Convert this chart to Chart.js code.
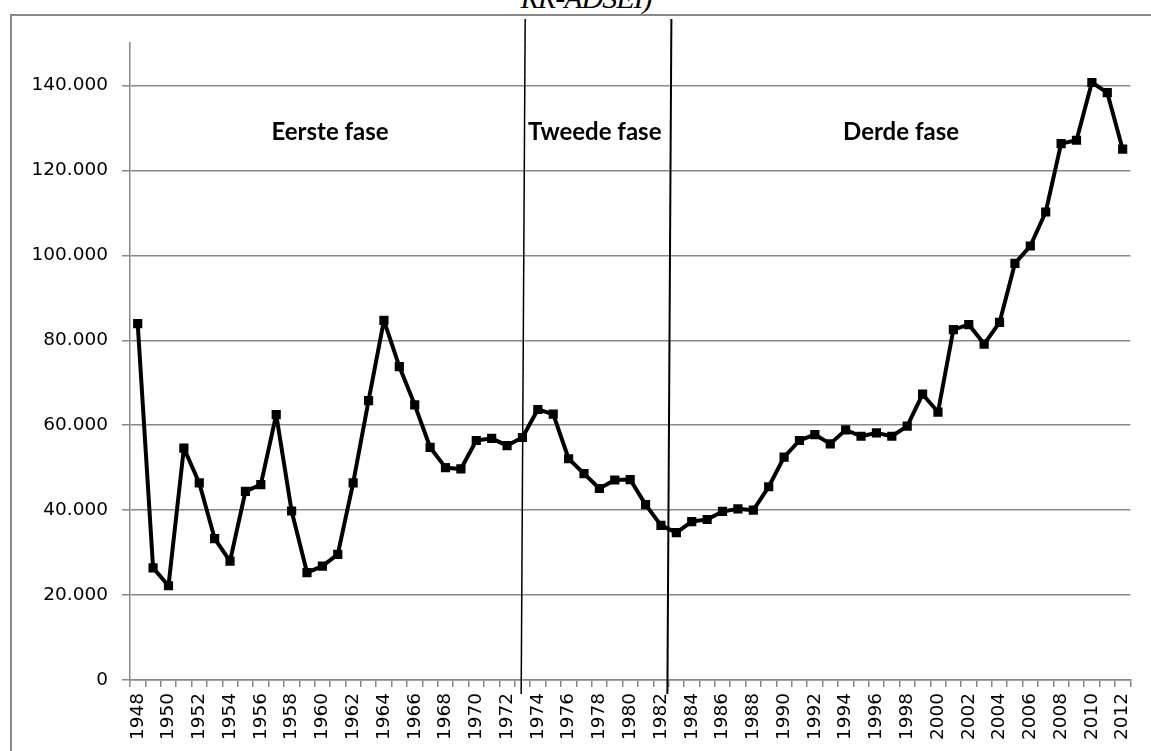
<!DOCTYPE html>
<html lang="nl">
<head>
    <meta charset="UTF-8">
    <title>Fasen</title>
    <script src="https://cdn.jsdelivr.net/npm/chart.js"></script>
    <style>
        body { margin: 0; background: #fff; overflow: hidden; }
        #wrap { position: relative; width: 1151px; height: 751px; overflow: hidden; }
        #frame {
            position: absolute; left: 10px; top: 14px;
            width: 2000px; height: 2000px;
            border: 2px solid #888; border-right: none; border-bottom: none;
        }
        #title {
            position: absolute; left: 0; width: 1172px; top: -19px;
            text-align: center;
            font: italic 30px "Liberation Serif", serif;
            letter-spacing: -1px;
        }
        #chart { position: absolute; left: 0; top: 0; }
    </style>
</head>
<body>
<div id="wrap">
    <div id="frame"></div>
    <div id="title">RR-ADSEI)</div>
    <canvas id="chart" width="1151" height="751"></canvas>
</div>
<script>
    // years on the x axis
    var years = [];
    for (var y = 1948; y <= 2012; y++) years.push(String(y));

    // series values
    var values = [
        83900, 26400, 22200, 54600, 46400, 33300, 28000, 44400, 46000, 62500,
        39800, 25300, 26800, 29600, 46400, 65800, 84700, 73800, 64800, 54800,
        50000, 49700, 56400, 56900, 55200, 57100, 63700, 62600, 52100, 48600,
        45100, 47100, 47200, 41300, 36400, 34700, 37300, 37800, 39700, 40300,
        40000, 45500, 52500, 56400, 57800, 55600, 58900, 57400, 58200, 57400,
        59800, 67300, 63100, 82500, 83700, 79100, 84200, 98100, 102200, 110200,
        126300, 127100, 140700, 138300, 125000
    ];

    // y axis tick values
    var yTicks = [0, 20000, 40000, 60000, 80000, 100000, 120000, 140000];

    // phase separators and labels (in years / values)
    var phaseLines = [1972.95, 1982.45];
    var phaseNames = ['Eerste fase', 'Tweede fase', 'Derde fase'];
    var phaseLabelYears = [1960.5, 1977.7, 1997.6];
    var phaseLabelValue = 129000;

    var phasePlugin = {
        id: 'phases',
        afterDraw: function (chart) {
            var ctx = chart.ctx;
            var xs = chart.scales.x, ys = chart.scales.y;
            ctx.save();
            ctx.strokeStyle = '#000';
            phaseLines.forEach(function (yr, i) {
                var xb = xs.getPixelForValue(yr - 1948);
                ctx.lineWidth = i === 0 ? 1.5 : 2;
                ctx.beginPath();
                ctx.moveTo(xb + 3.5, ys.top - 24);
                ctx.lineTo(xb - 0.5, ys.bottom + 14);
                ctx.stroke();
            });
            ctx.fillStyle = '#000';
            ctx.font = 'bold 24px Lato';
            ctx.textAlign = 'center';
            ctx.textBaseline = 'middle';
            phaseNames.forEach(function (name, i) {
                ctx.fillText(name, xs.getPixelForValue(phaseLabelYears[i] - 1948), ys.getPixelForValue(phaseLabelValue));
            });
            ctx.restore();
        }
    };

    var tickFont = { family: 'DejaVu Sans', size: 18.5 };

    var chart = new Chart(document.getElementById('chart'), {
        type: 'line',
        data: {
            labels: years,
            datasets: [{
                data: values,
                borderColor: '#000',
                borderWidth: 4,
                borderJoinStyle: 'round',
                pointStyle: 'rect',
                pointRadius: 6.5,
                pointBackgroundColor: '#000',
                pointBorderWidth: 0,
                tension: 0
            }]
        },
        options: {
            responsive: false,
            animation: false,
            layout: { padding: { top: 43, right: 18, left: 0, bottom: 0 } },
            plugins: { legend: { display: false }, tooltip: { enabled: false } },
            scales: {
                x: {
                    offset: true,
                    afterFit: function (s) { s.height = 71; },
                    grid: { offset: true, drawOnChartArea: false, drawTicks: true, tickLength: 7, color: '#888', lineWidth: 1.5 },
                    border: { color: '#888', width: 1.5 },
                    ticks: {
                        autoSkip: false, minRotation: 90, maxRotation: 90, padding: 6,
                        color: '#000', font: tickFont,
                        callback: function (v, i) { return i % 2 === 0 ? years[i] : ''; }
                    }
                },
                y: {
                    min: 0, max: 150000,
                    afterFit: function (s) { s.width = 130; },
                    afterBuildTicks: function (s) { s.ticks = yTicks.map(function (v) { return { value: v }; }); },
                    grid: { color: '#888', lineWidth: 1.5, tickLength: 8 },
                    border: { color: '#888', width: 1.5 },
                    ticks: {
                        padding: 14,
                        color: '#000', font: tickFont,
                        callback: function (v) { return v.toLocaleString('nl-NL'); }
                    }
                }
            }
        },
        plugins: [phasePlugin]
    });
</script>
</body>
</html>
